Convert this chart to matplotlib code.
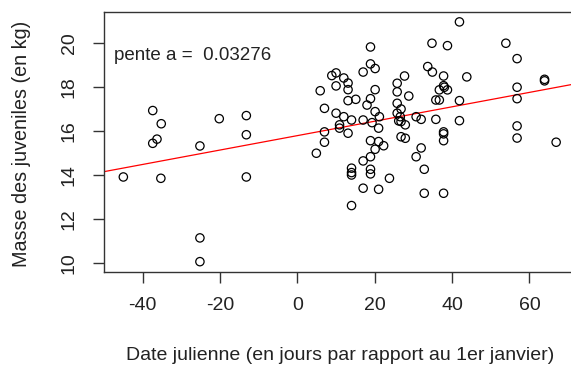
import numpy as np
import matplotlib
matplotlib.use("Agg")
import matplotlib.pyplot as plt

plt.rcParams['font.family'] = ['Liberation Sans', 'DejaVu Sans']
plt.rcParams['axes.unicode_minus'] = False

# date julienne (jours / 1er janvier) et masse des juveniles (kg)
date_j = [-37.4, -35.2, -36.3, -37.4, -45.0, -35.3, -25.2, -25.2, -25.2, -20.2,
          -13.2, -13.2, -13.2,
          41.9, 34.8, 38.8, 53.9, 56.8, 18.9, 18.9, 20.1, 17.0, 10.0,
          8.9, 12.0, 13.1, 10.0, 13.1, 5.9, 20.1, 18.9, 13.1, 15.1,
          18.0, 7.0, 20.1, 10.0, 12.0, 14.0, 17.0, 19.3, 21.2, 21.0,
          10.9, 10.9, 7.0, 13.1, 7.0, 4.9, 18.9, 21.0, 22.3, 20.1,
          18.9, 17.0, 14.0, 14.0, 14.0, 18.9, 18.9, 23.8, 17.0, 21.0,
          14.0, 25.8, 27.7, 25.8, 28.8, 25.8, 26.8, 25.8, 26.6, 26.2,
          26.8, 27.9, 26.8, 27.9, 30.7, 32.0, 32.0, 30.7, 32.8, 32.8,
          37.8, 33.7, 34.9, 37.8, 43.8, 37.8, 36.7, 38.8, 38.0, 35.8,
          36.7, 41.9, 35.8, 41.9, 37.8, 37.8, 37.8, 56.8, 56.8, 56.8,
          56.8, 63.9, 63.9, 66.9]
masse = [16.95, 16.35, 15.65, 15.46, 13.93, 13.87, 15.34, 11.16, 10.08, 16.58,
         16.72, 15.85, 13.93,
         20.98, 20.01, 19.90, 20.01, 19.31, 19.84, 19.07, 18.86, 18.70, 18.66,
         18.54, 18.43, 18.20, 18.07, 17.90, 17.85, 17.90, 17.49, 17.40, 17.46,
         17.20, 17.05, 16.90, 16.83, 16.67, 16.52, 16.52, 16.40, 16.67, 16.15,
         16.30, 16.15, 15.98, 15.92, 15.51, 15.01, 15.58, 15.54, 15.35, 15.19,
         14.85, 14.66, 14.33, 14.13, 14.02, 14.28, 14.07, 13.87, 13.42, 13.37,
         12.63, 18.19, 18.52, 17.80, 17.61, 17.28, 17.02, 16.83, 16.67, 16.48,
         16.45, 16.30, 15.76, 15.69, 16.67, 16.55, 15.25, 14.85, 14.28, 13.19,
         13.19, 18.95, 18.70, 18.52, 18.48, 18.08, 17.89, 17.89, 18.01, 17.43,
         17.43, 17.40, 16.55, 16.49, 15.98, 15.89, 15.58, 18.01, 17.49, 16.25,
         15.70, 18.37, 18.30, 15.51]

pente = 0.03276
ordonnee = 15.81

x_ticks = [-40, -20, 0, 20, 40, 60]
y_ticks = [10, 12, 14, 16, 18, 20]

fig = plt.figure(figsize=(5.71, 3.67), dpi=100)
ax = fig.add_axes([104/571, 95/367, 468/571, 260/367])

ax.scatter(date_j, masse, s=36, facecolors='none', edgecolors='black', linewidths=0.9, zorder=3)
ax.axline((0, ordonnee), slope=pente, color='red', lw=0.9, zorder=2)

ax.set_xlim(-50, 71)
ax.set_ylim(9.61, 21.43)
ax.set_xticks(x_ticks)
ax.set_yticks(y_ticks)
ax.set_xticklabels([str(t) for t in x_ticks], fontsize=14, color='#222222')
ax.set_yticklabels([str(t) for t in y_ticks], fontsize=14, rotation=90, va='center', color='#222222')
ax.tick_params(direction='out', length=8, width=1, color='#333333')
ax.tick_params(axis='x', pad=10)
ax.tick_params(axis='y', pad=11)

for s in ax.spines.values():
    s.set_color('#333333')
    s.set_linewidth(1)

ax.text(-47.5, 19.45, 'pente a =  0.03276', fontsize=13.5, ha='left', va='center', color='#222222')

fig.text(340/571, 1 - 356/367, 'Date julienne (en jours par rapport au 1er janvier)',
         fontsize=14, ha='center', va='center', color='#222222')
fig.text(22/571, 1 - 144/367, 'Masse des juveniles (en kg)', fontsize=14.2,
         rotation=90, ha='center', va='center', color='#222222')

fig.savefig('out.png', dpi=100)
